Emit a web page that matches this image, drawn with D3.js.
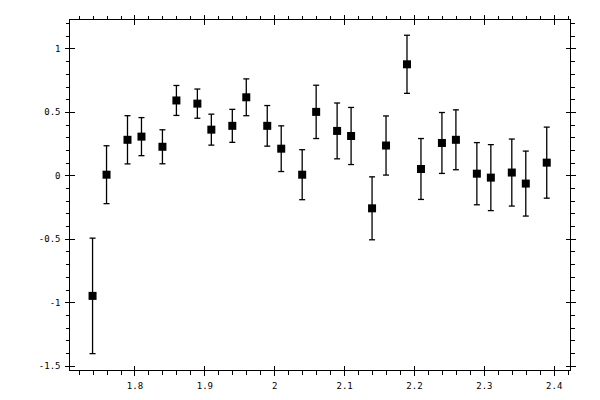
<!DOCTYPE html>
<html>
<head>
<meta charset="utf-8">
<script src="https://cdn.jsdelivr.net/npm/d3@7"></script>
<style>
  body { margin: 0; background: #fff; }
  svg { display: block; }
  .tick text { font-family: "DejaVu Sans Mono", monospace; font-size: 9px; fill: #000; }
</style>
</head>
<body>
<svg id="chart" width="600" height="400"></svg>
<script>
// measured points (x, y, symmetric error)
const xs = [1.74, 1.76, 1.79, 1.81, 1.84, 1.86, 1.89, 1.91, 1.94, 1.96, 1.99, 2.01, 2.04, 2.06,
            2.09, 2.11, 2.14, 2.16, 2.19, 2.21, 2.24, 2.26, 2.29, 2.31, 2.34, 2.36, 2.39];
const ys = [-0.95, 0.005, 0.28, 0.305, 0.225, 0.59, 0.565, 0.36, 0.39, 0.615, 0.39, 0.21, 0.005, 0.50,
            0.35, 0.31, -0.26, 0.235, 0.875, 0.05, 0.255, 0.28, 0.013, -0.018, 0.022, -0.065, 0.10];
const errs = [0.455, 0.228, 0.19, 0.15, 0.134, 0.118, 0.115, 0.122, 0.13, 0.145, 0.16, 0.18, 0.197, 0.21,
              0.22, 0.225, 0.248, 0.233, 0.229, 0.24, 0.24, 0.236, 0.245, 0.26, 0.264, 0.256, 0.28];

const xMajor = [1.8, 1.9, 2.0, 2.1, 2.2, 2.3, 2.4];
const yMajor = [-1.5, -1, -0.5, 0, 0.5, 1];

const data = xs.map((x, i) => ({ x, y: ys[i], e: errs[i] }));

const svg = d3.select("#chart");
const margin = { top: 19.5, right: 29.5, bottom: 29.5, left: 69.5 };
const width = 600, height = 400;

const x = d3.scaleLinear().domain([1.707, 2.424]).range([margin.left, width - margin.right]);
const y = d3.scaleLinear().domain([-1.538, 1.228]).range([height - margin.bottom, margin.top]);

const xMinor = d3.range(1.72, 2.4201, 0.02).map(v => +v.toFixed(2));
const yMinor = d3.range(-1.5, 1.2001, 0.1).map(v => +v.toFixed(1));

const fmt = d => String(+d.toFixed(2));

// minor ticks (outward only)
const minor = (axis, tr) => svg.append("g")
  .attr("transform", tr)
  .call(axis.tickSize(4).tickSizeOuter(0).tickFormat(""))
  .call(g => g.select(".domain").remove());

minor(d3.axisBottom(x).tickValues(xMinor), `translate(0,${height - margin.bottom})`);
minor(d3.axisTop(x).tickValues(xMinor), `translate(0,${margin.top})`);
minor(d3.axisLeft(y).tickValues(yMinor), `translate(${margin.left},0)`);
minor(d3.axisRight(y).tickValues(yMinor), `translate(${width - margin.right},0)`);

// major ticks crossing the frame
svg.append("g")
  .attr("transform", `translate(0,${height - margin.bottom})`)
  .call(d3.axisBottom(x).tickValues(xMajor).tickSize(5).tickSizeOuter(0).tickPadding(7).tickFormat(fmt))
  .call(g => g.select(".domain").remove())
  .call(g => g.selectAll(".tick line").attr("y1", -5));

svg.append("g")
  .attr("transform", `translate(0,${margin.top})`)
  .call(d3.axisTop(x).tickValues(xMajor).tickSize(5).tickSizeOuter(0).tickFormat(""))
  .call(g => g.select(".domain").remove())
  .call(g => g.selectAll(".tick line").attr("y1", 5));

svg.append("g")
  .attr("transform", `translate(${margin.left},0)`)
  .call(d3.axisLeft(y).tickValues(yMajor).tickSize(5).tickSizeOuter(0).tickPadding(4).tickFormat(fmt))
  .call(g => g.select(".domain").remove())
  .call(g => g.selectAll(".tick line").attr("x1", 5));

svg.append("g")
  .attr("transform", `translate(${width - margin.right},0)`)
  .call(d3.axisRight(y).tickValues(yMajor).tickSize(5).tickSizeOuter(0).tickFormat(""))
  .call(g => g.select(".domain").remove())
  .call(g => g.selectAll(".tick line").attr("x1", -5));

svg.selectAll(".tick line").attr("stroke", "#000").attr("shape-rendering", "crispEdges");

// frame
svg.append("rect")
  .attr("x", margin.left)
  .attr("y", margin.top)
  .attr("width", width - margin.left - margin.right)
  .attr("height", height - margin.top - margin.bottom)
  .attr("fill", "none")
  .attr("stroke", "#000")
  .attr("stroke-width", 1.3)
  .attr("shape-rendering", "crispEdges");

// error bars
const bars = svg.append("g").attr("stroke", "#000").attr("stroke-width", 1.3);
bars.selectAll("line.err")
  .data(data)
  .join("line")
  .attr("class", "err")
  .attr("x1", d => x(d.x)).attr("x2", d => x(d.x))
  .attr("y1", d => y(d.y + d.e)).attr("y2", d => y(d.y - d.e));

[1, -1].forEach(s => {
  bars.selectAll(`line.cap${s}`)
    .data(data)
    .join("line")
    .attr("class", `cap${s}`)
    .attr("x1", d => x(d.x) - 3).attr("x2", d => x(d.x) + 3)
    .attr("y1", d => y(d.y + s * d.e)).attr("y2", d => y(d.y + s * d.e));
});

// markers
const ms = 8;
svg.append("g")
  .selectAll("rect")
  .data(data)
  .join("rect")
  .attr("x", d => x(d.x) - ms / 2)
  .attr("y", d => y(d.y) - ms / 2)
  .attr("width", ms)
  .attr("height", ms)
  .attr("fill", "#000");
</script>
</body>
</html>
